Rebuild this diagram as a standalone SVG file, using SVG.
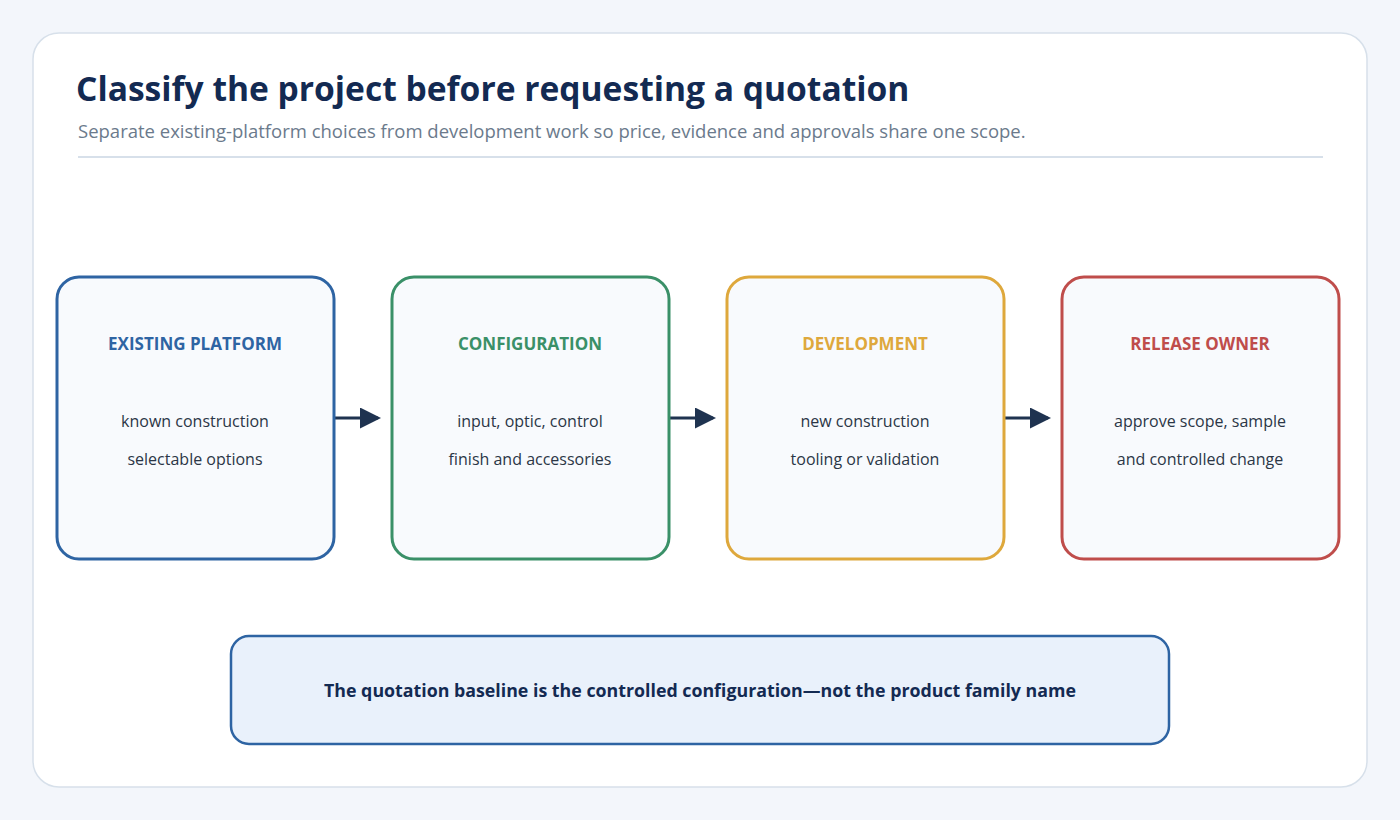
<svg xmlns="http://www.w3.org/2000/svg" width="1400" height="820" viewBox="0 0 1400 820">
<style>
.box{fill:#f8fafd;stroke-width:3}
.h{font-family:"Open Sans","Noto Sans",sans-serif;font-weight:bold;font-size:17px;text-anchor:middle}
.t{font-family:"Open Sans","Noto Sans",sans-serif;font-size:16px;fill:#2b3646;text-anchor:middle}
.c{stroke:#1f3350;stroke-width:3;fill:none;marker-end:url(#a)}
</style>
<defs><marker id="a" markerWidth="7" markerHeight="7" refX="6" refY="3.5" orient="auto" markerUnits="strokeWidth"><path d="M0,0L7,3.5L0,7z" fill="#1f3350"/></marker></defs>
<rect width="1400" height="820" fill="#f3f6fb"/>
<rect x="33" y="33" width="1334" height="754" rx="26" fill="#fff" stroke="#d7e0ea" stroke-width="1.5"/>
<text x="76" y="101" font-family="'Open Sans','Noto Sans',sans-serif" font-weight="bold" font-size="33.6" fill="#132a52">Classify the project before requesting a quotation</text>
<text x="78" y="138" font-family="'Open Sans','Noto Sans',sans-serif" font-size="18.5" fill="#6b7a8c">Separate existing-platform choices from development work so price, evidence and approvals share one scope.</text>
<line x1="78" y1="157" x2="1323" y2="157" stroke="#d7e0ea" stroke-width="2"/>
<g id="connectors">
<line class="c" x1="335" y1="418" x2="378" y2="418"/>
<line class="c" x1="670" y1="418" x2="713" y2="418"/>
<line class="c" x1="1005" y1="418" x2="1048" y2="418"/>
</g>
<g id="n1"><rect class="box" x="57" y="277" width="277" height="282" rx="22" stroke="#2e64a3"/><text class="h" x="195" y="350" fill="#2e64a3">EXISTING PLATFORM</text><text class="t" x="195" y="427">known construction</text><text class="t" x="195" y="465">selectable options</text></g>
<g id="n2"><rect class="box" x="392" y="277" width="277" height="282" rx="22" stroke="#3a9068"/><text class="h" x="530" y="350" fill="#3a9068">CONFIGURATION</text><text class="t" x="530" y="427">input, optic, control</text><text class="t" x="530" y="465">finish and accessories</text></g>
<g id="n3"><rect class="box" x="727" y="277" width="277" height="282" rx="22" stroke="#dea83c"/><text class="h" x="865" y="350" fill="#dea83c">DEVELOPMENT</text><text class="t" x="865" y="427">new construction</text><text class="t" x="865" y="465">tooling or validation</text></g>
<g id="n4"><rect class="box" x="1062" y="277" width="277" height="282" rx="22" stroke="#bf4d4b"/><text class="h" x="1200" y="350" fill="#bf4d4b">RELEASE OWNER</text><text class="t" x="1200" y="427">approve scope, sample</text><text class="t" x="1200" y="465">and controlled change</text></g>
<g id="note"><rect x="231" y="636" width="938" height="108" rx="18" fill="#e9f1fb" stroke="#2e64a3" stroke-width="2.5"/><text x="700" y="697" font-family="'Open Sans','Noto Sans',sans-serif" font-weight="bold" font-size="17.8" fill="#132a52" text-anchor="middle">The quotation baseline is the controlled configuration—not the product family name</text></g>
</svg>
